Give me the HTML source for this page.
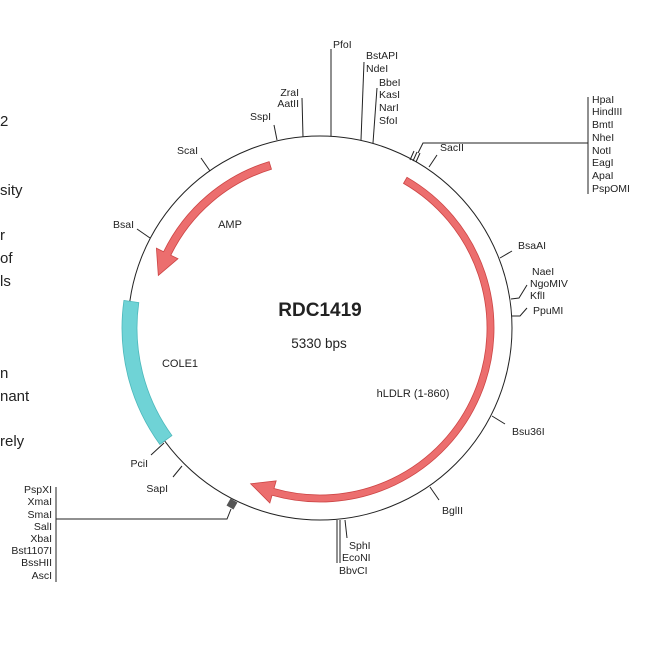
<!DOCTYPE html>
<html><head><meta charset="utf-8"><style>
html,body{margin:0;padding:0;background:#fff;}
svg{display:block;}
text{font-family:"Liberation Sans",Arial,sans-serif;fill:#222;}
.l{font-size:10.5px;}
.side{font-family:"Liberation Sans",sans-serif;font-size:15px;fill:#222;}
line,polyline{stroke:#222;stroke-width:1;fill:none;}
</style></head><body>
<svg id="s" width="650" height="650" viewBox="0 0 650 650" xmlns="http://www.w3.org/2000/svg">
<rect width="650" height="650" fill="#fff"/>
<!-- left clipped text -->
<text class="side" x="0" y="126">2</text>
<text class="side" x="0" y="195">sity</text>
<text class="side" x="0" y="240">r</text>
<text class="side" x="0" y="263">of</text>
<text class="side" x="0" y="286">ls</text>
<text class="side" x="0" y="378">n</text>
<text class="side" x="0" y="401">nant</text>
<text class="side" x="0" y="446">rely</text>

<circle cx="320" cy="328" r="192" fill="none" stroke="#222" stroke-width="1"/>
<g id="feat"></g>

<!-- ticks -->
<line x1="331" y1="136" x2="331" y2="49"/>
<text class="l" x="333" y="48">PfoI</text>
<line x1="361" y1="140" x2="364" y2="62"/>
<text class="l" x="366" y="59">BstAPI</text>
<text class="l" x="366" y="72">NdeI</text>
<line x1="373" y1="143" x2="377" y2="88"/>
<text class="l" x="379" y="86">BbeI</text>
<text class="l" x="379" y="98">KasI</text>
<text class="l" x="379" y="111">NarI</text>
<text class="l" x="379" y="124">SfoI</text>
<line x1="303" y1="137" x2="302" y2="98"/>
<text class="l" x="299" y="96" text-anchor="end">ZraI</text>
<text class="l" x="299" y="107" text-anchor="end">AatII</text>
<line x1="277" y1="140" x2="274" y2="125"/>
<text class="l" x="271" y="120" text-anchor="end">SspI</text>
<line x1="210" y1="171" x2="201" y2="158"/>
<text class="l" x="198" y="154" text-anchor="end">ScaI</text>
<line x1="150" y1="238" x2="137" y2="229"/>
<text class="l" x="134" y="228" text-anchor="end">BsaI</text>
<!-- SacII cluster -->
<line x1="410" y1="160" x2="414" y2="151" stroke-width="1.5"/>
<line x1="413" y1="161" x2="417" y2="152" stroke-width="1.5"/>
<line x1="416" y1="162" x2="420" y2="153" stroke-width="1.5"/>
<polyline points="418,153 423,143 588,143"/>
<line x1="588" y1="97" x2="588" y2="194"/>
<text class="l" x="592" y="103">HpaI</text>
<text class="l" x="592" y="115">HindIII</text>
<text class="l" x="592" y="128">BmtI</text>
<text class="l" x="592" y="141">NheI</text>
<text class="l" x="592" y="154">NotI</text>
<text class="l" x="592" y="166">EagI</text>
<text class="l" x="592" y="179">ApaI</text>
<text class="l" x="592" y="192">PspOMI</text>
<line x1="429" y1="167" x2="437" y2="155"/>
<text class="l" x="440" y="151">SacII</text>
<line x1="500" y1="258" x2="512" y2="251"/>
<text class="l" x="518" y="249">BsaAI</text>
<polyline points="511,299 519,298 527,285"/>
<text class="l" x="532" y="275">NaeI</text>
<text class="l" x="530" y="287">NgoMIV</text>
<text class="l" x="530" y="299">KflI</text>
<polyline points="512,316 520,316 527,308"/>
<text class="l" x="533" y="314">PpuMI</text>
<line x1="492" y1="416" x2="505" y2="424"/>
<text class="l" x="512" y="435">Bsu36I</text>
<line x1="430" y1="487" x2="439" y2="500"/>
<text class="l" x="442" y="514">BglII</text>
<line x1="337" y1="520" x2="337" y2="563"/>
<line x1="340" y1="520" x2="340" y2="563"/>
<line x1="345" y1="520" x2="347" y2="538"/>
<text class="l" x="349" y="549">SphI</text>
<text class="l" x="342" y="561">EcoNI</text>
<text class="l" x="339" y="574">BbvCI</text>
<line x1="182" y1="466" x2="173" y2="477"/>
<text class="l" x="168" y="492" text-anchor="end">SapI</text>
<line x1="164" y1="443" x2="151" y2="455"/>
<text class="l" x="148" y="467" text-anchor="end">PciI</text>
<!-- left cluster -->
<rect x="228" y="500" width="8" height="8" fill="#555" transform="rotate(30 232 504)"/>
<polyline points="231,509 227,519 56,519"/>
<line x1="56" y1="487" x2="56" y2="582"/>
<text class="l" x="52" y="493" text-anchor="end">PspXI</text>
<text class="l" x="52" y="505" text-anchor="end">XmaI</text>
<text class="l" x="52" y="518" text-anchor="end">SmaI</text>
<text class="l" x="52" y="530" text-anchor="end">SalI</text>
<text class="l" x="52" y="542" text-anchor="end">XbaI</text>
<text class="l" x="52" y="554" text-anchor="end">Bst1107I</text>
<text class="l" x="52" y="566" text-anchor="end">BssHII</text>
<text class="l" x="52" y="579" text-anchor="end">AscI</text>

<text x="320" y="316" text-anchor="middle" style="font-size:19px;font-weight:bold;">RDC1419</text>
<text x="319" y="348" text-anchor="middle" style="font-size:13.5px;">5330 bps</text>
<text x="230" y="228" text-anchor="middle" style="font-size:11px;">AMP</text>
<text x="180" y="367" text-anchor="middle" style="font-size:11px;">COLE1</text>
<text x="413" y="397" text-anchor="middle" style="font-size:11px;">hLDLR (1-860)</text>
</svg>
<script>
var cx=320,cy=328;
function P(r,t){t=t*Math.PI/180;return (cx+r*Math.sin(t)).toFixed(2)+","+(cy-r*Math.cos(t)).toFixed(2);}
function band(r1,r2,a,b){var la=Math.abs(b-a)>180?1:0;var sw=b>a?1:0;
return "M"+P(r2,a)+" A"+r2+","+r2+" 0 "+la+" "+sw+" "+P(r2,b)+" L"+P(r1,b)+" A"+r1+","+r1+" 0 "+la+" "+(1-sw)+" "+P(r1,a)+"Z";}
function arrow(r1,r2,h1,h2,a,base,tip){var la=Math.abs(base-a)>180?1:0;var sw=base>a?1:0;var rm=(r1+r2)/2;
return "M"+P(r2,a)+" A"+r2+","+r2+" 0 "+la+" "+sw+" "+P(r2,base)+" L"+P(h2,base)+" L"+P(rm,tip)+" L"+P(h1,base)+" L"+P(r1,base)+" A"+r1+","+r1+" 0 "+la+" "+(1-sw)+" "+P(r1,a)+"Z";}
var g=document.getElementById("feat");
var s='<path d="'+band(183,198,234,278)+'" fill="#6fd3d6" stroke="#4bb8bb" stroke-width="0.8"/>';
s+='<path d="'+arrow(166,174,158,182,343,296,288)+'" fill="#ec6e6e" stroke="#c44" stroke-width="0.8"/>';
s+='<path d="'+arrow(167,174,159,182,30,196,204)+'" fill="#ec6e6e" stroke="#c44" stroke-width="0.8"/>';
g.innerHTML=s;
</script>
</body></html>
